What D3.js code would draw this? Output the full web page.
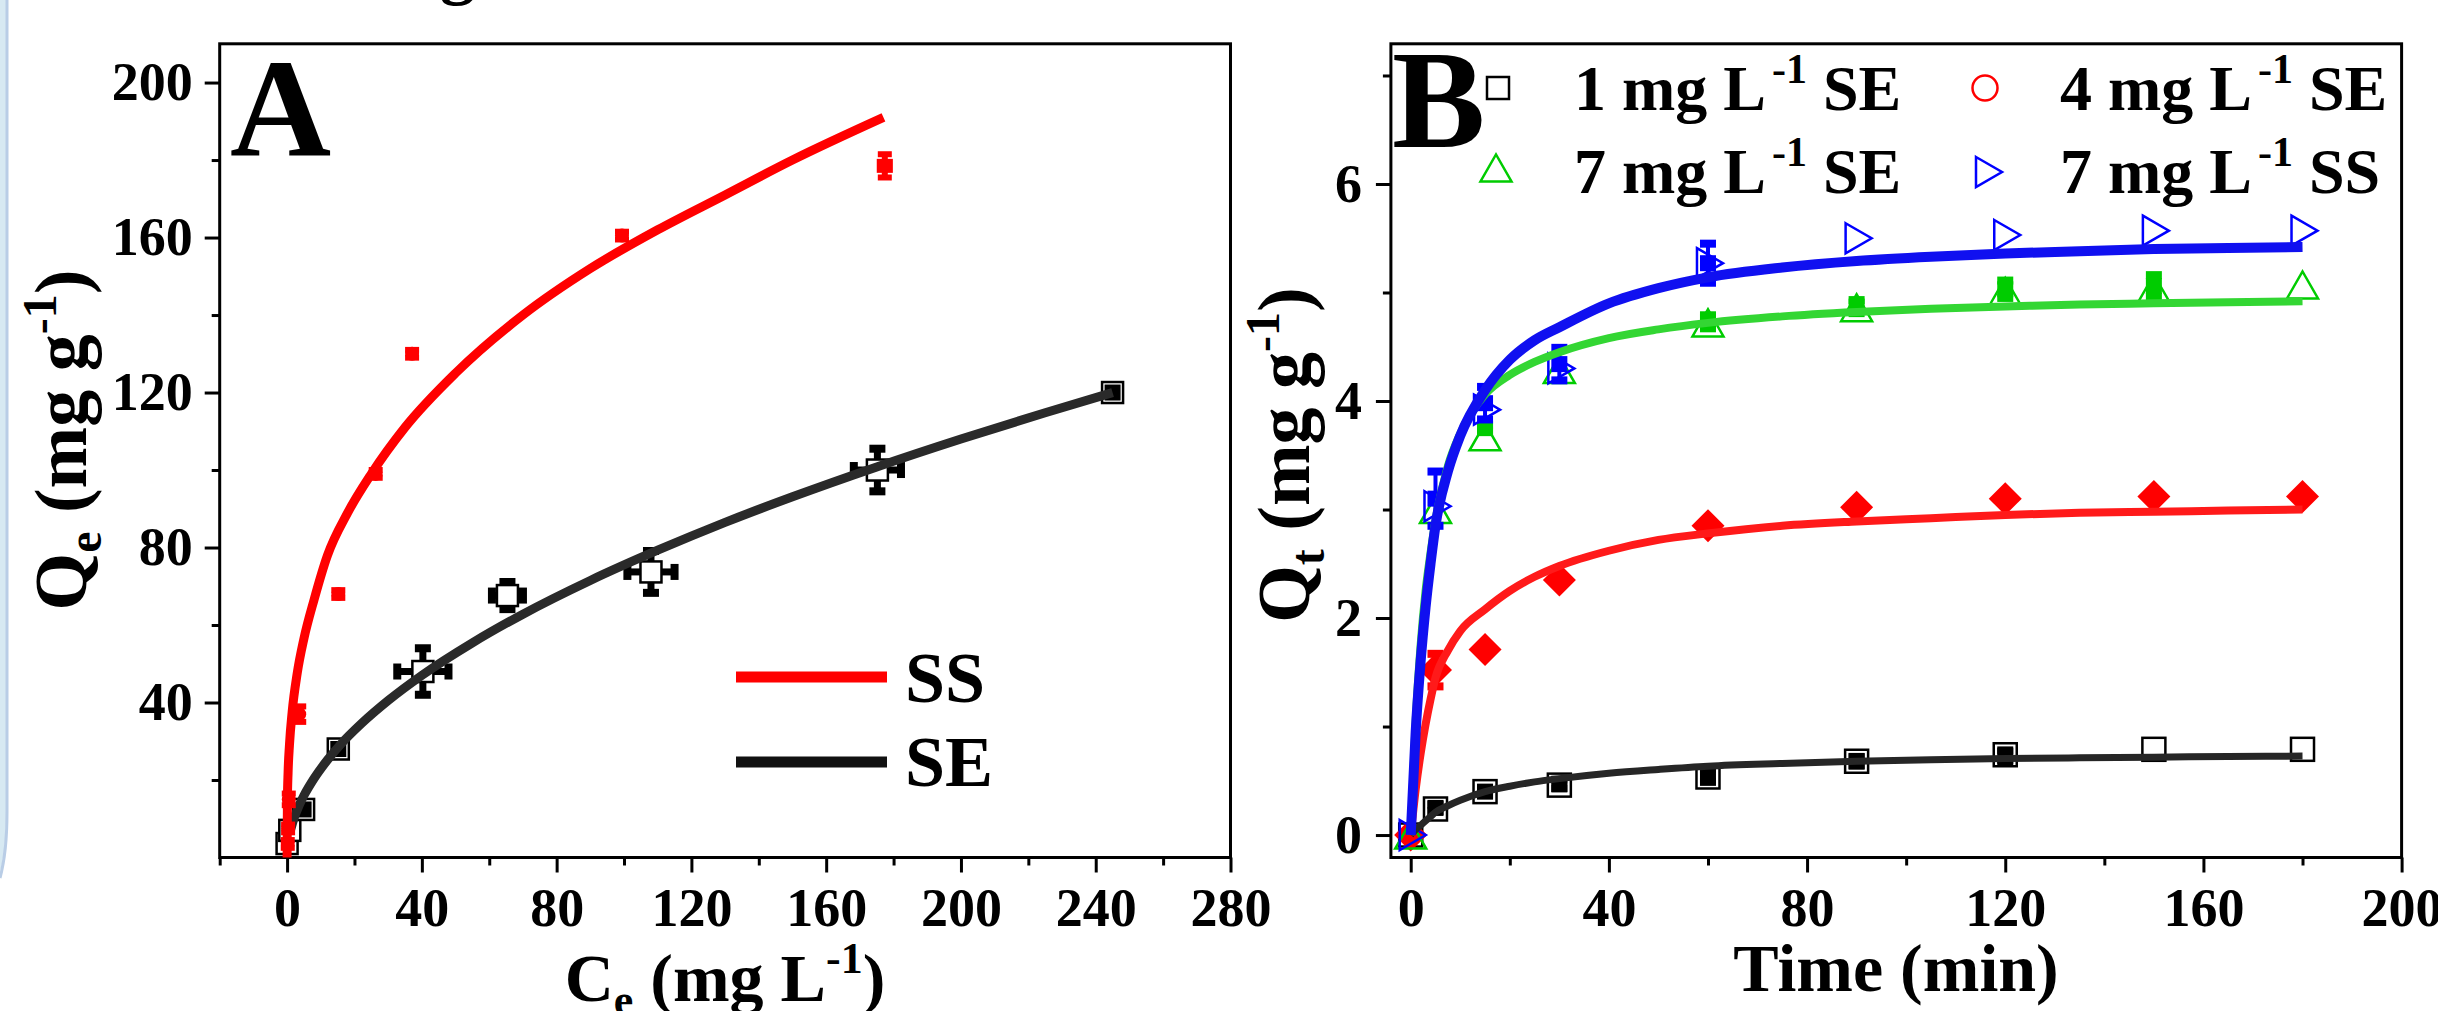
<!DOCTYPE html>
<html><head><meta charset="utf-8">
<script src="https://cdn.jsdelivr.net/npm/d3@7"></script>
<style>
html,body{margin:0;padding:0;background:#fff;overflow:hidden;}
svg{display:block;}
text{font-family:"Liberation Serif","Times New Roman",serif;font-weight:bold;}
</style></head><body>
<svg id="chart" width="2438" height="1011"></svg>
<script>
// ================= Panel A : isotherms =================
const aXTicks = [0,40,80,120,160,200,240,280];
const aXMinor = [-20,20,60,100,140,180,220,260];
const aYTicks = [40,80,120,160,200];
const aYMinor = [20,60,100,140,180];
// SS measured points
const ssCe   = [0.2,0.3,0.5,3.6,15.2,26.3,37.1,99.4,177.4];
const ssQe   = [3.5,7.5,15,37,68,99,130,160.5,178.5];
const ssYErr = [1,1,1.5,2,1,1,1,1,3];
const ssXErr = [0,0,0,0,0,0,0,0,1.5];
// SE measured points
const seCe   = [0,0.8,4.9,15.2,40.3,65.4,108,175.2,245];
const seQe   = [3.6,7,12.4,28,48,67.6,73.7,100,120];
const seXErr = [1,1,1.5,1,7.6,4.6,7,7,2];
const seYErr = [1,1,1.5,1,6,3.5,5.4,5.5,1];
const seInCe = [4.9,15.2,245];
const seInQe = [12.4,28,120];
// fitted curves
const ssFitCe = [0,0.1,0.3,0.7,1.5,3,5,8,12,18,25,35,50,70,90,110,130,150,177];
const ssFitQe = [0,15,22,29,37.5,47.5,56.5,66.5,78,89,99,111,125,140,152,162,171,180,191];
const seFitCe = [1,2,3.5,5,8,12,16,22,30,40,55,70,90,110,130,150,175,200,225,245];
const seFitQe = [7,10,13.3,16,20.4,25.2,29.3,34.5,40.5,47,55.4,62.8,71.5,79.3,86.5,93.1,100.8,108,114.8,120];

// ================= Panel B : kinetics =================
const bXTicks = [0,40,80,120,160,200];
const bXMinor = [20,60,100,140,180];
const bYTicks = [0,2,4,6];
const bYMinor = [1,3,5,7];
const times = [0,5,15,30,60,90,120,150,180];
const q1SE = [0,0.24,0.40,0.46,0.535,0.68,0.74,0.79,0.79];
const q4SE = [0,1.52,1.71,2.35,2.85,3.02,3.10,3.12,3.12];
const q7SE = [0,3.0,3.67,4.29,4.72,4.86,5.01,5.04,5.07];
const q7SS = [0,3.03,3.92,4.30,5.27,5.50,5.53,5.57,5.57];
// replicate (filled) points with error bars
const f1T = [0,5,15,30,60,90,120];
const f1Q = [0,0.25,0.40,0.47,0.55,0.68,0.73];
const f1E = [0,0.03,0.03,0.04,0.06,0.04,0.05];
const f4E = [0,0.15,0,0,0,0,0,0,0];
const f7T = [15,60,90,120,150];
const f7Q = [3.75,4.73,4.87,5.03,5.06];
const f7E = [0.03,0.06,0.06,0.08,0.1];
const fSST = [5,15,30,60];
const fSSQ = [3.1,3.98,4.34,5.27];
const fSSE = [0.25,0.15,0.15,0.18];
// fitted curves
const fitT  = [0,1,2,3,4,5,7.5,10,15,20,25,30,40,50,60,75,90,105,120,135,150,165,180];
const fit1  = [0,0.05,0.09,0.13,0.17,0.21,0.27,0.32,0.40,0.45,0.49,0.52,0.57,0.605,0.635,0.66,0.68,0.695,0.705,0.712,0.718,0.723,0.728];
const fit4  = [0,0.42,0.75,1.02,1.25,1.45,1.7,1.88,2.08,2.25,2.38,2.48,2.62,2.72,2.78,2.85,2.89,2.92,2.95,2.97,2.98,2.99,3.0];
const fit7  = [0,1.05,1.75,2.25,2.6,2.9,3.4,3.7,4.06,4.24,4.36,4.45,4.58,4.66,4.72,4.78,4.82,4.85,4.87,4.89,4.90,4.91,4.92];
const fitSS = [0,0.95,1.6,2.1,2.5,2.85,3.35,3.68,4.1,4.38,4.56,4.68,4.9,5.04,5.14,5.23,5.29,5.33,5.36,5.38,5.40,5.41,5.42];

const svg = d3.select('#chart');
svg.append('rect').attr('width',2438).attr('height',1011).attr('fill','#fff');

// decorative slide edge on the left
svg.append('path').attr('d','M0,0 L6,0 L6,812 Q6,850 0,872 Z').attr('fill','#d7e9f2');
svg.append('path').attr('d','M7,0 L7,812 Q7,852 0,878').attr('fill','none').attr('stroke','#b9cde6').attr('stroke-width',3);
// cut-off glyph at the top
svg.append('text').attr('x',440).attr('y',-9).attr('font-size',70).text('g');

const xA = d3.scaleLinear([-20,280],[219.7,1230.5]);
const yA = d3.scaleLinear([0,210],[857.5,43.8]);
const xB = d3.scaleLinear([-4,200],[1390.9,2401.6]);
const yB = d3.scaleLinear([-0.207,7.292],[857.5,43.8]);

function drawAxes(x, y, xMaj, xMin, yMaj, yMin, yPad) {
  const g = svg.append('g');
  const yb = y.range()[0];
  const xl = x.range()[0];
  g.append('g').attr('transform',`translate(0,${yb})`)
    .call(d3.axisBottom(x).tickValues(xMin).tickSize(8).tickFormat('').tickSizeOuter(0));
  g.append('g').attr('transform',`translate(0,${yb})`)
    .call(d3.axisBottom(x).tickValues(xMaj).tickSize(15).tickPadding(15).tickSizeOuter(0).tickFormat(d3.format('d')));
  g.append('g').attr('transform',`translate(${xl},0)`)
    .call(d3.axisLeft(y).tickValues(yMin).tickSize(8).tickFormat('').tickSizeOuter(0));
  g.append('g').attr('transform',`translate(${xl},0)`)
    .call(d3.axisLeft(y).tickValues(yMaj).tickSize(15).tickPadding(yPad).tickSizeOuter(0).tickFormat(d3.format('d')));
  g.selectAll('.domain').remove();
  g.selectAll('.tick line').attr('stroke','#000').attr('stroke-width',3);
  g.selectAll('g').attr('font-size',54).attr('font-family','"Liberation Serif","Times New Roman",serif');
  g.selectAll('.tick text').attr('fill','#000').style('font-weight','bold');
  const [x0,x1] = x.range(); const [y0,y1] = y.range();
  svg.append('rect').attr('x',x0).attr('y',y1).attr('width',x1-x0).attr('height',y0-y1)
    .attr('fill','none').attr('stroke','#000').attr('stroke-width',3);
}

function errBar(g, cx, cy, xa, xb, ya, yb, color, stem, cap, capT) {
  if (Math.abs(yb-ya) > 0.5) {
    g.append('rect').attr('x',cx-stem/2).attr('y',Math.min(ya,yb)).attr('width',stem).attr('height',Math.abs(yb-ya)).attr('fill',color);
    [ya,yb].forEach(v=>g.append('rect').attr('x',cx-cap/2).attr('y',v-capT/2).attr('width',cap).attr('height',capT).attr('fill',color));
  }
  if (Math.abs(xb-xa) > 0.5) {
    g.append('rect').attr('y',cy-stem/2).attr('x',Math.min(xa,xb)).attr('height',stem).attr('width',Math.abs(xb-xa)).attr('fill',color);
    [xa,xb].forEach(v=>g.append('rect').attr('y',cy-cap/2).attr('x',v-capT/2).attr('height',cap).attr('width',capT).attr('fill',color));
  }
}

// ---------- Panel A ----------
drawAxes(xA, yA, aXTicks, aXMinor, aYTicks, aYMinor, 12);
const gA = svg.append('g');
seCe.forEach((c,i)=>{
  const cx = xA(c), cy = yA(seQe[i]);
  errBar(gA, cx, cy, xA(c-seXErr[i]), xA(c+seXErr[i]), yA(seQe[i]-seYErr[i]), yA(seQe[i]+seYErr[i]), '#000', 7, 16, 8);
});
seCe.forEach((c,i)=>{
  gA.append('rect').attr('x',xA(c)-10.5).attr('y',yA(seQe[i])-10.5).attr('width',21).attr('height',21)
    .attr('fill','#fff').attr('stroke','#000').attr('stroke-width',2.5);
});
seInCe.forEach((c,i)=>{
  gA.append('rect').attr('x',xA(c)-8).attr('y',yA(seInQe[i])-8).attr('width',16).attr('height',16).attr('fill','#000');
});
const lineA = d3.line().x(d=>xA(d[0])).y(d=>yA(d[1])).curve(d3.curveMonotoneX);
gA.append('path').datum(seFitCe.map((c,i)=>[c,seFitQe[i]])).attr('d',lineA)
  .attr('fill','none').attr('stroke','#2a2a2a').attr('stroke-width',9);
ssCe.forEach((c,i)=>{
  const cx = xA(c), cy = yA(ssQe[i]);
  errBar(gA, cx, cy, xA(c-ssXErr[i]), xA(c+ssXErr[i]), yA(ssQe[i]-ssYErr[i]), yA(ssQe[i]+ssYErr[i]), '#ff0000', 6, 14, 6);
  gA.append('circle').attr('cx',cx).attr('cy',cy).attr('r',7).attr('fill','#ff0000');
});
gA.append('path').datum(ssFitCe.map((c,i)=>[c,ssFitQe[i]])).attr('d',lineA)
  .attr('fill','none').attr('stroke','#ff0000').attr('stroke-width',9);

// legend A
gA.append('line').attr('x1',736).attr('x2',887).attr('y1',677).attr('y2',677).attr('stroke','#ff0000').attr('stroke-width',11);
gA.append('line').attr('x1',736).attr('x2',887).attr('y1',762).attr('y2',762).attr('stroke','#111').attr('stroke-width',11);
gA.append('text').attr('x',905).attr('y',702).attr('font-size',72).text('SS');
gA.append('text').attr('x',905).attr('y',786).attr('font-size',72).text('SE');
svg.append('text').attr('x',230).attr('y',156).attr('font-size',140).text('A');

function labelQ(x, y, sub) {
  const t = svg.append('text').attr('transform',`translate(${x},${y}) rotate(-90)`).attr('text-anchor','middle').attr('font-size',74);
  t.append('tspan').text('Q');
  t.append('tspan').attr('font-size',48).attr('dy',15).text(sub);
  t.append('tspan').attr('dy',-15).text(' (mg g');
  t.append('tspan').attr('font-size',48).attr('dy',-30).text('-1');
  t.append('tspan').attr('dy',30).text(')');
}
labelQ(86, 440, 'e');
{
  const t = svg.append('text').attr('x',725).attr('y',1001).attr('text-anchor','middle').attr('font-size',68);
  t.append('tspan').text('C');
  t.append('tspan').attr('font-size',44).attr('dy',14).text('e');
  t.append('tspan').attr('dy',-14).text(' (mg L');
  t.append('tspan').attr('font-size',44).attr('dy',-28).text('-1');
  t.append('tspan').attr('dy',28).text(')');
}

// ---------- Panel B ----------
drawAxes(xB, yB, bXTicks, bXMinor, bYTicks, bYMinor, 14);
const gB = svg.append('g');
const sq = (g,cx,cy,s,fill,stroke,sw)=>g.append('rect').attr('x',cx-s/2).attr('y',cy-s/2).attr('width',s).attr('height',s).attr('fill',fill).attr('stroke',stroke).attr('stroke-width',sw||0);
const tri = (cx,cy,w,h)=>`M${cx-w/2},${cy+h/2}L${cx+w/2},${cy+h/2}L${cx},${cy-h/2}Z`;
const rtri = (cx,cy,w,h)=>`M${cx-w/2},${cy-h/2}L${cx+w/2},${cy}L${cx-w/2},${cy+h/2}Z`;
const diam = (cx,cy,r)=>`M${cx},${cy-r}L${cx+r},${cy}L${cx},${cy+r}L${cx-r},${cy}Z`;

f1T.forEach((t,i)=>{
  errBar(gB, xB(t), yB(f1Q[i]), 0,0, yB(f1Q[i]-f1E[i]), yB(f1Q[i]+f1E[i]), '#000', 4, 16, 8);
  sq(gB, xB(t), yB(f1Q[i]), 16, '#000');
});
times.forEach((t,i)=> sq(gB, xB(t), yB(q1SE[i]), 23, 'none', '#000', 2.5));
times.forEach((t,i)=>{
  errBar(gB, xB(t), yB(q4SE[i]), 0,0, yB(q4SE[i]-f4E[i]), yB(q4SE[i]+f4E[i]), '#ff0000', 5, 16, 8);
  gB.append('path').attr('d',diam(xB(t), yB(q4SE[i]), 16.5)).attr('fill','#ff0000');
});
f7T.forEach((t,i)=>{
  errBar(gB, xB(t), yB(f7Q[i]), 0,0, yB(f7Q[i]-f7E[i]), yB(f7Q[i]+f7E[i]), '#00cc00', 4, 16, 8);
  sq(gB, xB(t), yB(f7Q[i]), 16, '#00cc00');
});
times.forEach((t,i)=> gB.append('path').attr('d',tri(xB(t), yB(q7SE[i]), 31, 27)).attr('fill','none').attr('stroke','#00cc00').attr('stroke-width',2.5));
fSST.forEach((t,i)=>{
  errBar(gB, xB(t), yB(fSSQ[i]), 0,0, yB(fSSQ[i]-fSSE[i]), yB(fSSQ[i]+fSSE[i]), '#0000ff', 4, 16, 8);
  sq(gB, xB(t), yB(fSSQ[i]), 16, '#0000ff');
});
times.forEach((t,i)=> gB.append('path').attr('d',rtri(xB(t)+2, yB(q7SS[i]), 26, 30)).attr('fill','none').attr('stroke','#0000ff').attr('stroke-width',2.5));

const lineB = d3.line().x(d=>xB(d[0])).y(d=>yB(d[1])).curve(d3.curveMonotoneX);
[[fit1,'#262626',7],[fit4,'#ff1a1a',8],[fit7,'#33d633',8],[fitSS,'#1010f0',10]].forEach(([arr,col,w])=>{
  gB.append('path').datum(fitT.map((t,i)=>[t,arr[i]])).attr('d',lineB)
    .attr('fill','none').attr('stroke',col).attr('stroke-width',w);
});

function legText(x, y, pre, post) {
  const t = svg.append('text').attr('x',x).attr('y',y).attr('font-size',64);
  t.append('tspan').text(pre);
  t.append('tspan').attr('font-size',42).attr('dx',6).attr('dy',-27).text('-1');
  t.append('tspan').attr('dy',27).text(' ' + post);
}
sq(svg, 1498, 88, 22, 'none', '#000', 2.5);
legText(1574, 110, '1 mg L', 'SE');
svg.append('circle').attr('cx',1985).attr('cy',88).attr('r',12.5).attr('fill','none').attr('stroke','#ff0000').attr('stroke-width',2.5);
legText(2060, 110, '4 mg L', 'SE');
svg.append('path').attr('d',tri(1496,168,31,27)).attr('fill','none').attr('stroke','#00cc00').attr('stroke-width',2.5);
legText(1574, 193, '7 mg L', 'SE');
svg.append('path').attr('d',rtri(1989,172,26,30)).attr('fill','none').attr('stroke','#0000ff').attr('stroke-width',2.5);
legText(2060, 193, '7 mg L', 'SS');
svg.append('text').attr('x',1392).attr('y',147).attr('font-size',140).text('B');

labelQ(1309, 455, 't');
svg.append('text').attr('x',1896).attr('y',991).attr('text-anchor','middle').attr('font-size',68).text('Time (min)');
</script>
</body></html>
